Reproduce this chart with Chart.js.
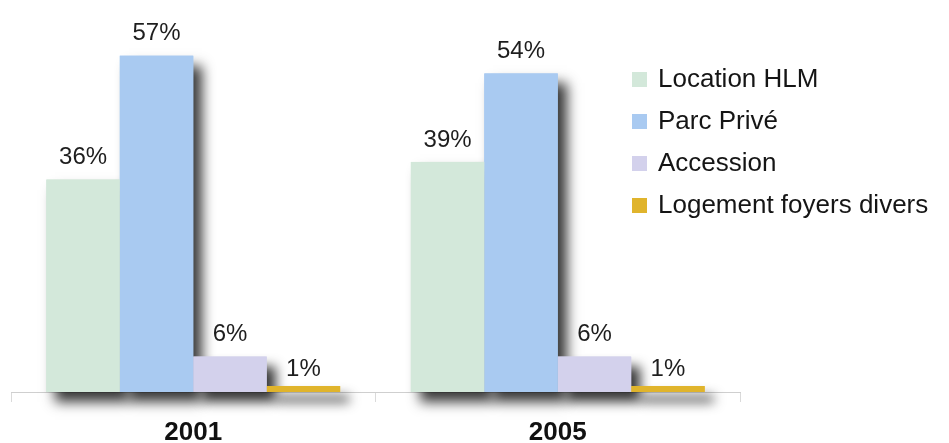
<!DOCTYPE html>
<html lang="fr">
<head>
<meta charset="utf-8">
<title>Statut d'occupation des logements</title>
<script src="https://cdn.jsdelivr.net/npm/chart.js@4.4.1/dist/chart.umd.min.js"></script>
<style>
  html, body { margin: 0; padding: 0; background: #ffffff; }
  #wrap { width: 949px; height: 443px; position: relative; }
</style>
</head>
<body>
<div id="wrap"><canvas id="logements"></canvas></div>
<script>
// years and shares (%) by housing type
const years = ["2001", "2005"];
const locationHlm = [36, 39];
const parcPrive = [57, 54];
const accession = [6, 6];
const logementFoyers = [1, 1];

const seriesNames = ["Location HLM", "Parc Privé", "Accession", "Logement foyers divers"];
const seriesValues = [locationHlm, parcPrive, accession, logementFoyers];
const seriesColors = ["#d3e8da", "#a9caf1", "#d3d1ec", "#e0b42c"];

const FONT = "'Liberation Sans', Arial, Helvetica, sans-serif";

// drop shadow behind every bar, painted before the bars themselves
const barShadow = {
  id: "barShadow",
  beforeDatasetsDraw(chart) {
    const ctx = chart.ctx;
    chart.data.datasets.forEach((ds, i) => {
      chart.getDatasetMeta(i).data.forEach((bar) => {
        ctx.save();
        ctx.shadowColor = "rgba(0,0,0,0.78)";
        ctx.shadowBlur = 12;
        ctx.shadowOffsetX = 9;
        ctx.shadowOffsetY = 10;
        ctx.fillStyle = ds.backgroundColor;
        ctx.fillRect(bar.x - bar.width / 2, bar.y, bar.width, bar.base - bar.y);
        ctx.restore();
      });
    });
  }
};

// "xx%" above each bar
const valueLabels = {
  id: "valueLabels",
  afterDatasetsDraw(chart) {
    const ctx = chart.ctx;
    ctx.save();
    ctx.font = "24px " + FONT;
    ctx.fillStyle = "#1e1e1e";
    ctx.textAlign = "center";
    ctx.textBaseline = "bottom";
    chart.data.datasets.forEach((ds, i) => {
      chart.getDatasetMeta(i).data.forEach((bar, j) => {
        const gap = ds.data[j] < 3 ? 5 : 10;
        ctx.fillText(ds.data[j] + "%", bar.x, bar.y - gap);
      });
    });
    ctx.restore();
  }
};

// legend block at the upper right, overlapping the plot
const sideLegend = {
  id: "sideLegend",
  afterDraw(chart, args, opts) {
    const ctx = chart.ctx;
    ctx.save();
    ctx.font = "26px " + FONT;
    ctx.textBaseline = "middle";
    chart.data.datasets.forEach((ds, i) => {
      const y = opts.top + i * opts.rowHeight;
      ctx.fillStyle = ds.backgroundColor;
      ctx.fillRect(opts.left, y - 7, 15, 15);
      ctx.fillStyle = "#151515";
      ctx.fillText(ds.label, opts.left + 26, y + 1);
    });
    ctx.restore();
  }
};

new Chart(document.getElementById("logements"), {
  type: "bar",
  data: {
    labels: years,
    datasets: seriesNames.map((name, i) => ({
      label: name,
      data: seriesValues[i],
      backgroundColor: seriesColors[i],
      borderWidth: 0
    }))
  },
  options: {
    responsive: true,
    maintainAspectRatio: false,
    animation: false,
    layout: { padding: { left: 11, right: 209, top: 38, bottom: 0 } },
    datasets: { bar: { barPercentage: 1, categoryPercentage: 0.806 } },
    scales: {
      x: {
        afterFit(scale) { scale.height = 51; },
        grid: {
          drawOnChartArea: false,
          tickLength: 10,
          color: "#dadada",
          offset: true
        },
        border: { display: true, color: "#cfcfcf", width: 1 },
        ticks: {
          padding: 18,
          color: "#111111",
          font: { family: FONT, size: 26, weight: "bold", lineHeight: 1 }
        }
      },
      y: { display: false, min: 0, max: 60 }
    },
    plugins: {
      legend: { display: false },
      tooltip: { enabled: false },
      sideLegend: { left: 632, top: 79, rowHeight: 42 }
    }
  },
  plugins: [barShadow, valueLabels, sideLegend]
});
</script>
</body>
</html>
